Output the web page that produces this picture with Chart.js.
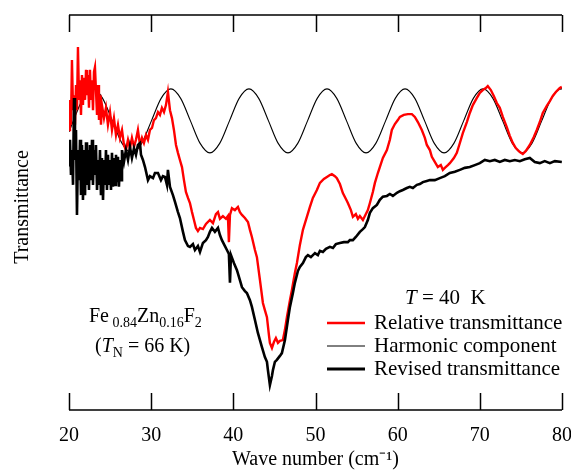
<!DOCTYPE html>
<html>
<head>
<meta charset="utf-8">
<script src="https://cdn.jsdelivr.net/npm/chart.js@4.4.1/dist/chart.umd.min.js"></script>
<style>
  html, body { margin: 0; padding: 0; background: #fff; }
  #wrap { width: 571px; height: 474px; }
</style>
</head>
<body>
<div id="wrap"><canvas id="spectrum"></canvas></div>
<script>
// Wave number axis ticks (cm^-1)
const xTicks = [20, 30, 40, 50, 60, 70, 80];

// Relative transmittance (red), arbitrary units
const waveRelative = [
  20.00, 20.12, 20.24, 20.36, 20.49, 20.61, 20.73, 20.85, 20.97, 21.09, 21.22, 21.34, 21.46, 21.58,
  21.70, 21.82, 21.95, 22.07, 22.19, 22.31, 22.43, 22.55, 22.68, 22.80, 22.92, 23.04, 23.16, 23.28,
  23.41, 23.53, 23.65, 23.77, 23.89, 24.01, 24.26, 24.50, 24.74, 24.99, 25.23, 25.47, 25.72, 25.96,
  26.20, 26.45, 26.69, 26.93, 27.18, 27.42, 27.66, 27.91, 28.15, 28.39, 28.64, 28.88, 29.12, 29.37,
  29.61, 29.85, 30.10, 30.34, 30.58, 30.83, 31.07, 31.31, 31.56, 31.80, 32.04, 32.29, 32.53, 32.77,
  33.02, 33.26, 33.50, 33.75, 33.99, 34.23, 34.48, 34.72, 34.97, 35.21, 35.45, 35.69, 35.94, 36.30,
  36.67, 37.15, 37.52, 37.88, 38.13, 38.37, 38.73, 39.10, 39.34, 39.46, 39.59, 39.83, 40.19, 40.56,
  40.80, 41.05, 41.41, 41.78, 42.02, 42.26, 42.63, 42.87, 43.24, 43.60, 43.84, 44.09, 44.33, 44.45,
  44.70, 44.94, 45.18, 45.43, 45.67, 46.03, 46.28, 46.52, 46.89, 47.13, 47.49, 47.74, 48.10, 48.47,
  48.95, 49.32, 49.68, 50.17, 50.54, 51.02, 51.39, 51.75, 51.99, 52.36, 52.60, 52.97, 53.33, 53.70,
  53.94, 54.31, 54.55, 54.91, 55.16, 55.40, 55.77, 56.01, 56.37, 56.62, 56.98, 57.23, 57.59, 57.83,
  58.20, 58.69, 59.05, 59.29, 59.66, 60.02, 60.27, 60.75, 61.24, 61.73, 62.09, 62.46, 62.94, 63.31,
  63.55, 63.92, 64.16, 64.52, 64.89, 65.25, 65.50, 65.74, 66.11, 66.35, 66.84, 67.20, 67.57, 67.93,
  68.42, 68.78, 69.15, 69.64, 70.00, 70.36, 70.73, 70.97, 71.34, 71.70, 72.07, 72.43, 72.80, 73.28,
  73.65, 74.01, 74.38, 74.87, 75.23, 75.60, 76.08, 76.57, 76.93, 77.30, 77.66, 78.15, 78.52, 78.88,
  79.25, 79.73, 79.98
];
const transRelative = [
  70.9, 78.5, 72.2, 88.6, 75.9, 79.7, 72.2, 82.3, 75.9, 91.9, 78.5, 83.5, 74.7, 84.8,
  77.2, 84.1, 78.5, 86.1, 79.7, 84.8, 76.5, 86.1, 78.5, 83.5, 75.9, 85.6, 86.8, 81.0,
  74.7, 82.3, 73.4, 79.7, 72.2, 77.2, 73.9, 76.5, 72.2, 75.4, 70.9, 73.9, 69.6, 72.2,
  68.9, 70.9, 67.1, 65.8, 68.4, 66.3, 68.9, 66.6, 68.4, 70.9, 67.1, 68.9, 67.6, 69.6,
  68.4, 70.9, 71.4, 73.4, 73.9, 75.4, 74.7, 76.5, 75.4, 77.2, 80.5, 75.9, 73.9, 70.9,
  67.1, 65.1, 63.3, 61.5, 58.2, 55.2, 53.7, 52.4, 50.1, 48.1, 46.1, 45.3, 46.1, 45.8,
  47.1, 48.1, 47.3, 49.6, 50.1, 48.4, 49.1, 48.4, 49.1, 42.5, 49.4, 51.1, 50.6, 51.4,
  50.1, 49.4, 48.6, 47.6, 45.6, 43.8, 40.5, 38.7, 32.9, 27.1, 25.3, 23.5, 19.0, 17.0,
  15.7, 17.2, 18.2, 17.0, 17.5, 17.7, 20.3, 23.5, 27.8, 30.4, 34.7, 37.2, 41.8, 45.6,
  48.9, 51.4, 53.7, 55.7, 57.5, 58.5, 59.0, 59.5, 59.7, 59.2, 58.7, 57.2, 54.9, 53.4,
  52.4, 50.6, 48.9, 49.6, 48.4, 49.1, 48.1, 49.1, 50.6, 52.4, 55.2, 57.5, 60.0, 61.5,
  63.8, 65.8, 68.4, 70.9, 72.4, 73.4, 74.2, 74.7, 74.9, 74.9, 74.2, 72.9, 70.9, 68.9,
  67.1, 65.8, 64.1, 62.8, 61.5, 62.0, 60.8, 61.3, 62.0, 62.5, 63.8, 65.1, 67.6, 70.1,
  72.9, 75.2, 77.2, 79.0, 80.3, 81.0, 81.5, 82.0, 81.0, 79.5, 77.7, 76.5, 74.2, 71.6,
  69.4, 67.6, 66.3, 65.3, 64.8, 65.6, 67.1, 69.1, 70.9, 72.9, 75.2, 77.0, 78.2, 79.5,
  80.5, 81.5, 81.8
];

// Harmonic component (thin black)
const waveHarmonic = [
  20.00, 20.53, 21.71, 22.90, 24.09, 25.28, 26.46, 27.65, 28.84, 30.03, 31.21, 32.40, 33.59, 34.78,
  35.96, 37.15, 38.34, 39.53, 40.71, 41.90, 43.09, 44.28, 45.46, 46.65, 47.84, 49.03, 50.21, 51.40,
  52.59, 53.78, 54.96, 56.15, 57.34, 58.53, 59.71, 60.90, 62.09, 63.28, 64.46, 65.65, 66.84, 68.03,
  69.21, 70.40, 71.59, 72.78, 73.96, 75.15, 76.34, 77.53, 78.71, 79.90, 80.00
];
const transHarmonic = [
  70.4, 73.2, 78.9, 81.3, 78.9, 73.2, 67.5, 65.1, 67.5, 73.2, 78.9, 81.3, 78.9, 73.2,
  67.5, 65.1, 67.5, 73.2, 78.9, 81.3, 78.9, 73.2, 67.5, 65.1, 67.5, 73.2, 78.9, 81.3,
  78.9, 73.2, 67.5, 65.1, 67.5, 73.2, 78.9, 81.3, 78.9, 73.2, 67.5, 65.1, 67.5, 73.2,
  78.9, 81.3, 78.9, 73.2, 67.5, 65.1, 67.5, 73.2, 78.9, 81.3, 81.3
];

// Revised transmittance (thick black)
const waveRevised = [
  20.00, 20.12, 20.24, 20.36, 20.49, 20.61, 20.73, 20.85, 20.97, 21.09, 21.22, 21.34, 21.46, 21.58,
  21.70, 21.82, 21.95, 22.07, 22.19, 22.31, 22.43, 22.55, 22.68, 22.80, 22.92, 23.04, 23.16, 23.28,
  23.41, 23.53, 23.65, 23.77, 23.89, 24.01, 24.14, 24.26, 24.38, 24.50, 24.62, 24.74, 24.87, 24.99,
  25.11, 25.23, 25.35, 25.47, 25.60, 25.72, 25.84, 25.96, 26.08, 26.20, 26.33, 26.45, 26.69, 26.93,
  27.18, 27.42, 27.66, 27.91, 28.15, 28.39, 28.64, 28.76, 29.00, 29.25, 29.61, 29.85, 30.22, 30.46,
  30.83, 31.19, 31.43, 31.68, 31.92, 32.04, 32.29, 32.65, 32.90, 33.26, 33.50, 33.87, 34.11,
  34.48, 34.72, 35.08, 35.33, 35.69, 35.94, 36.30, 36.67, 36.91, 37.15, 37.40, 37.76,
  38.13, 38.37, 38.61, 38.98, 39.22, 39.46, 39.59, 39.71, 40.07, 40.44, 40.80, 41.05, 41.41, 41.65,
  42.02, 42.26, 42.63, 42.99, 43.24, 43.48, 43.84, 44.09, 44.21, 44.45, 44.70, 44.82, 45.06, 45.30,
  45.67, 45.91, 46.28, 46.64, 46.89, 47.25, 47.49, 47.86, 48.10, 48.47, 48.83, 49.08, 49.44, 49.93,
  50.29, 50.54, 50.90, 51.27, 51.75, 52.12, 52.48, 52.97, 53.45, 53.94, 54.18, 54.55, 54.91, 55.40,
  55.77, 56.01, 56.37, 56.62, 56.98, 57.47, 57.83, 58.20, 58.69, 59.05, 59.42, 59.91, 60.27, 60.63,
  61.12, 61.48, 61.85, 62.34, 62.70, 63.07, 63.55, 63.92, 64.52, 65.13, 65.74, 66.35, 66.96, 67.57,
  68.17, 68.78, 69.39, 70.00, 70.61, 71.22, 71.82, 72.43, 73.04, 73.65, 74.26, 74.87, 75.47, 76.08,
  76.69, 77.30, 77.90, 78.52, 79.13, 79.98
];
const transRevised = [
  62.0, 68.4, 59.5, 65.8, 57.0, 79.0, 63.3, 70.9, 49.4, 65.8, 58.2, 68.4, 54.4, 67.1,
  53.2, 65.8, 54.4, 67.8, 57.0, 65.8, 55.7, 67.1, 58.2, 68.4, 57.0, 65.8, 59.5, 67.1,
  55.7, 63.3, 57.0, 65.8, 54.4, 63.8, 53.2, 63.3, 57.0, 65.8, 55.7, 64.6, 57.0, 63.3,
  55.7, 65.1, 56.5, 63.8, 57.0, 64.6, 57.7, 64.1, 56.5, 63.3, 58.2, 65.8, 62.8, 65.8,
  63.3, 66.6, 63.8, 66.3, 64.6, 67.1, 67.6, 64.6, 63.3, 61.5, 58.2, 59.2, 58.7, 60.0,
  60.0, 58.2, 59.2, 59.0, 57.0, 60.8, 56.5, 54.4, 52.7, 50.1, 48.6, 45.1, 43.0,
  41.5, 41.3, 42.0, 40.5, 41.5, 40.0, 42.3, 43.0, 43.8, 45.1, 46.1, 45.1,
  46.1, 44.3, 43.0, 41.5, 40.5, 39.5, 32.2, 39.2, 37.2, 35.4, 32.9, 31.1, 30.1, 29.6,
  27.8, 26.1, 22.8, 19.5, 17.7, 15.9, 13.4, 12.2, 10.1, 6.3, 8.6, 10.1, 12.2, 12.7,
  13.7, 14.4, 17.7, 22.8, 26.1, 29.6, 32.2, 35.2, 36.2, 37.2, 38.7, 39.2, 38.7, 39.7,
  39.2, 40.3, 40.0, 40.8, 41.3, 41.0, 42.0, 42.3, 42.5, 42.5, 43.0, 43.0, 43.8, 45.1,
  45.8, 46.3, 48.1, 49.9, 51.1, 51.9, 53.2, 54.0, 54.2, 54.7, 54.2, 55.0, 55.4, 55.7,
  56.2, 56.5, 56.2, 57.0, 57.2, 57.7, 58.0, 58.2, 58.2, 58.7, 59.2, 60.0, 60.3, 60.8,
  61.3, 61.5, 62.0, 62.5, 63.3, 63.0, 63.3, 62.8, 63.3, 63.0, 63.3, 63.0, 63.5, 63.8,
  62.8, 62.5, 63.0, 62.5, 63.0, 62.8
];

const serif = "'Liberation Serif', 'Times New Roman', serif";
const pairs = (xs, ys) => xs.map((v, i) => ({ x: v, y: ys[i] }));

// draws a run of text pieces: [text, size, italic, dy]
function drawRuns(ctx, x, y, runs) {
  runs.forEach(([t, size, italic, dy]) => {
    ctx.font = (italic ? 'italic ' : '') + size + 'px ' + serif;
    ctx.fillText(t, x, y + (dy || 0));
    x += ctx.measureText(t).width;
  });
}

const overlay = {
  id: 'overlay',
  afterDraw(chart) {
    const { ctx, chartArea: a, scales: { x } } = chart;
    ctx.save();
    // top and bottom frame with inward ticks
    ctx.strokeStyle = '#000';
    ctx.lineWidth = 1.5;
    ctx.beginPath();
    ctx.moveTo(a.left, a.top); ctx.lineTo(a.right, a.top);
    ctx.moveTo(a.left, a.bottom); ctx.lineTo(a.right, a.bottom);
    xTicks.forEach(v => {
      const px = Math.round(x.getPixelForValue(v)) + 0.5;
      ctx.moveTo(px, a.top); ctx.lineTo(px, a.top + 17);
      ctx.moveTo(px, a.bottom); ctx.lineTo(px, a.bottom - 17);
    });
    ctx.stroke();

    ctx.fillStyle = '#000';
    ctx.textBaseline = 'alphabetic';
    ctx.textAlign = 'left';

    // y title
    ctx.save();
    ctx.translate(28, 207);
    ctx.rotate(-Math.PI / 2);
    ctx.textAlign = 'center';
    ctx.font = '20px ' + serif;
    ctx.fillText('Transmittance', 0, 0);
    ctx.restore();

    // sample label
    drawRuns(ctx, 89, 322, [['Fe', 20], [' 0.84', 14, false, 5], ['Zn', 20], ['0.16', 14, false, 5], ['F', 20], ['2', 14, false, 5]]);
    drawRuns(ctx, 95, 352, [['(', 20], ['T', 20, true], ['N', 14, false, 5], [' = 66 K)', 20]]);

    // temperature + legend
    drawRuns(ctx, 405, 304, [['T', 21, true], [' = 40  K', 21]]);
    const legend = [
      ['Relative transmittance', '#ff0000', 2.5],
      ['Harmonic component', '#000', 1],
      ['Revised transmittance', '#000', 3]
    ];
    legend.forEach(([label, color, w], i) => {
      const y = 323 + i * 23;
      ctx.strokeStyle = color;
      ctx.lineWidth = w;
      ctx.beginPath();
      ctx.moveTo(327, y); ctx.lineTo(365, y);
      ctx.stroke();
      ctx.font = '21px ' + serif;
      ctx.fillText(label, 374, y + 6);
    });
    ctx.restore();
  }
};

new Chart(document.getElementById('spectrum'), {
  type: 'line',
  data: {
    datasets: [
      {
        label: 'Revised transmittance',
        data: pairs(waveRevised, transRevised),
        borderColor: '#000',
        borderWidth: 2.6,
        pointRadius: 0,
        tension: 0
      },
      {
        label: 'Relative transmittance',
        data: pairs(waveRelative, transRelative),
        borderColor: '#ff0000',
        borderWidth: 2.4,
        pointRadius: 0,
        tension: 0
      },
      {
        label: 'Harmonic component',
        data: pairs(waveHarmonic, transHarmonic),
        borderColor: '#000',
        borderWidth: 1.1,
        pointRadius: 0,
        cubicInterpolationMode: 'monotone'
      }
    ]
  },
  options: {
    responsive: true,
    maintainAspectRatio: false,
    animation: false,
    layout: { padding: { left: 69, right: 9, top: 15, bottom: 0 } },
    plugins: {
      legend: { display: false },
      tooltip: { enabled: false }
    },
    scales: {
      x: {
        type: 'linear',
        min: 20,
        max: 80,
        grid: { display: false, drawTicks: false },
        border: { display: false },
        ticks: {
          stepSize: 10,
          padding: 14,
          color: '#000',
          font: { family: serif, size: 20 }
        },
        title: {
          display: true,
          text: 'Wave number (cm⁻¹)',
          color: '#000',
          font: { family: serif, size: 20 },
          padding: { top: 0, bottom: 2 }
        },
        afterFit(scale) {
          scale.height = 64;
          scale.paddingLeft = 0;
          scale.paddingRight = 0;
        }
      },
      y: {
        display: false,
        min: 0,
        max: 100
      }
    }
  },
  plugins: [overlay]
});
</script>
</body>
</html>
